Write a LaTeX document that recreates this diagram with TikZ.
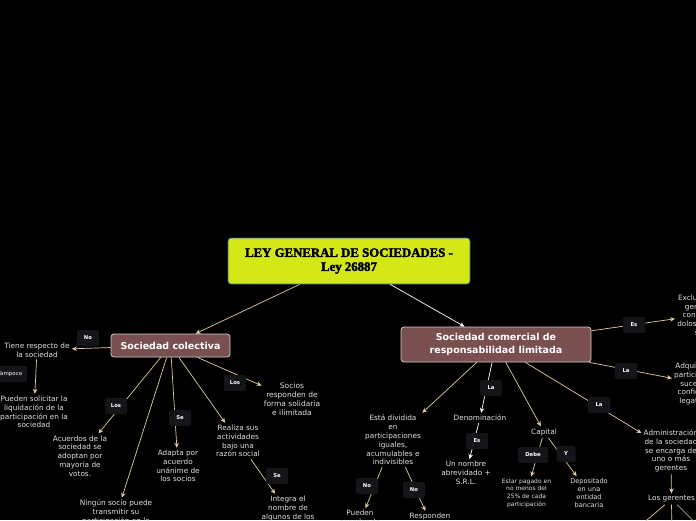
\documentclass[tikz,border=0pt]{standalone}
\usepackage{fontspec}
\setmainfont{DejaVu Sans}
\newfontfamily\titlefont[FakeBold=2.6]{Liberation Serif}
\usetikzlibrary{arrows.meta}

\definecolor{rootfill}{RGB}{212,232,23}
\definecolor{rootline}{RGB}{30,110,190}
\definecolor{mainfill}{RGB}{121,80,79}
\definecolor{mainline}{RGB}{205,205,205}
\definecolor{lblfill}{RGB}{20,21,24}
\definecolor{tanline}{RGB}{226,204,156}
\definecolor{txtgray}{RGB}{226,226,226}

\begin{document}
\begin{tikzpicture}[x=1pt,y=-1pt,
	root/.style={draw=rootline, line width=0.8pt, fill=rootfill, rounded corners=3pt,
		minimum width=242pt, minimum height=46pt, align=center,
		font=\titlefont\bfseries\fontsize{12.8}{14}\selectfont},
	main/.style={draw=mainline, line width=0.8pt, fill=mainfill, rounded corners=3pt,
		text=white, align=center, font=\bfseries\fontsize{9.5}{12.5}\selectfont},
	txt/.style={text=txtgray, align=center, inner sep=2pt, font=\fontsize{7.3}{8.8}\selectfont},
	lbl/.style={fill=lblfill, rounded corners=2pt, text=white, minimum width=22pt,
		minimum height=16pt, inner sep=1pt, font=\bfseries\fontsize{5.3}{6}\selectfont},
	lnk/.style={draw=tanline, line width=0.7pt},
	con/.style={lnk, -{Stealth[length=5pt,width=4.5pt]}},
	wcon/.style={con, draw=white}]
	\useasboundingbox (0,0) rectangle (696,520);
	\fill[black] (0,0) rectangle (696,520);	%background
	\clip (0,0) rectangle (696,520);
	
	%central topics
	\node[root] (ley) at (349,261) {LEY GENERAL DE SOCIEDADES -\\Ley 26887};
	\node[main, minimum width=119pt, minimum height=23pt] (sc) at (170.5,345.5) {Sociedad colectiva};
	\node[main, minimum width=190pt, minimum height=35pt] (srl) at (496,344.5) {Sociedad comercial de\\responsabilidad limitada};
	
	%sociedad colectiva
	\node[txt] (tiene) at (37,350) {Tiene respecto de\\la sociedad};
	\node[txt] (liquid) at (34,412) {Pueden solicitar la\\liquidación de la\\participación en la\\sociedad};
	\node[txt] (acuerdos) at (80,456) {Acuerdos de la\\sociedad se\\adoptan por\\mayoría de\\votos.};
	\node[txt] (ningun) at (116,516) {Ningún socio puede\\transmitir su\\participación en la\\sociedad};
	\node[txt] (adapta) at (178,466) {Adapta por\\acuerdo\\unánime de\\los socios};
	\node[txt] (realiza) at (238,441) {Realiza sus\\actividades\\bajo una\\razón social};
	\node[txt, font=\fontsize{7.5}{8.8}\selectfont] (socios) at (292,399) {Socios\\responden de\\forma solidaria\\e ilimitada};
	\node[txt] (integra) at (288,512) {Integra el\\nombre de\\algunos de los\\socios};
	
	%sociedad comercial de responsabilidad limitada
	\node[txt] (dividida) at (393,440) {Está dividida\\en\\participaciones\\iguales,\\acumulables e\\indivisibles};
	\node[txt] (ceder) at (360,522) {Pueden\\exceder de\\veinte socios};
	\node[txt] (respond) at (430,521) {Responden\\personalmente};
	\node[txt] (denom) at (480,418) {Denominación};
	\node[txt] (nombre) at (466,473) {Un nombre\\abrevidado +\\S.R.L.};
	\node[txt] (capital) at (544,432) {Capital};
	\node[txt, font=\fontsize{6}{7.6}\selectfont] (pagado) at (526.5,493) {Estar pagado en\\no menos del\\25\% de cada\\participación};
	\node[txt, font=\fontsize{6.6}{8}\selectfont] (deposito) at (589,493) {Depositado\\en una\\entidad\\bancaria};
	\node[txt] (exclu) at (701,315) {Exclusión de\\gerentes\\con causa\\dolosamente\\sus};
	\node[txt] (adqu) at (702,384) {Adquisición de\\participaciones\\sucesión de\\confiere a los\\legatarios la};
	\node[txt] (admin) at (671,451) {Administración\\de la sociedad\\se encarga de\\uno o más\\gerentes};
	\node[txt] (gerentes) at (671.5,499) {Los gerentes};
	\coordinate (g1) at (609.7,552);
	\coordinate (g2) at (672,552);
	\coordinate (g3) at (724.5,552);
	
	%connectors
	\draw[con] (ley) -- (sc);
	\draw[wcon] (ley) -- (srl);
	\draw[con] (sc) -- (tiene);
	\draw[con] (tiene) -- (liquid);
	\draw[con] (sc) -- (acuerdos);
	\draw[con] (sc) -- (ningun);
	\draw[con] (sc) -- (adapta);
	\draw[con] (sc) -- (realiza);
	\draw[con] (sc) -- (socios);
	\draw[con] (realiza) -- (integra);
	\draw[con] (srl) -- (dividida);
	\draw[con] (dividida) -- (ceder);
	\draw[con] (dividida) -- (respond);
	\draw[wcon] (srl) -- (denom);
	\draw[wcon] (denom) -- (nombre);
	\draw[con] (srl) -- (capital);
	\draw[con] (capital) -- (pagado);
	\draw[con] (capital) -- (deposito);
	\draw[con] (srl) -- (exclu);
	\draw[con] (srl) -- (adqu);
	\draw[con] (srl) -- (admin);
	\draw[con] (admin) -- (gerentes);
	\draw[lnk] (gerentes) -- (g1);
	\draw[lnk] (gerentes) -- (g2);
	\draw[lnk] (gerentes) -- (g3);
	
	%link labels
	\node[lbl] (no1) at (88,338) {No};
	\node[lbl, minimum width=34pt, font=\fontsize{5.5}{6}\selectfont] (tampoco) at (10,374) {Tampoco};
	\node[lbl] (los1) at (116,406) {Los};
	\node[lbl] (se1) at (180,418) {Se};
	\node[lbl] (los2) at (235,383) {Los};
	\node[lbl] (se2) at (277,476) {Se};
	\node[lbl] (no2) at (367,486) {No};
	\node[lbl] (no3) at (414,490) {No};
	\node[lbl] (la1) at (491,388) {La};
	\node[lbl] (es1) at (477,441) {Es};
	\node[lbl, minimum width=30pt] (debe) at (533,455) {Debe};
	\node[lbl, minimum width=19pt] (y1) at (566,454) {Y};
	\node[lbl] (es2) at (634,325) {Es};
	\node[lbl] (la2) at (626,371) {La};
	\node[lbl] (la3) at (599,405) {La};
\end{tikzpicture}
\end{document}
